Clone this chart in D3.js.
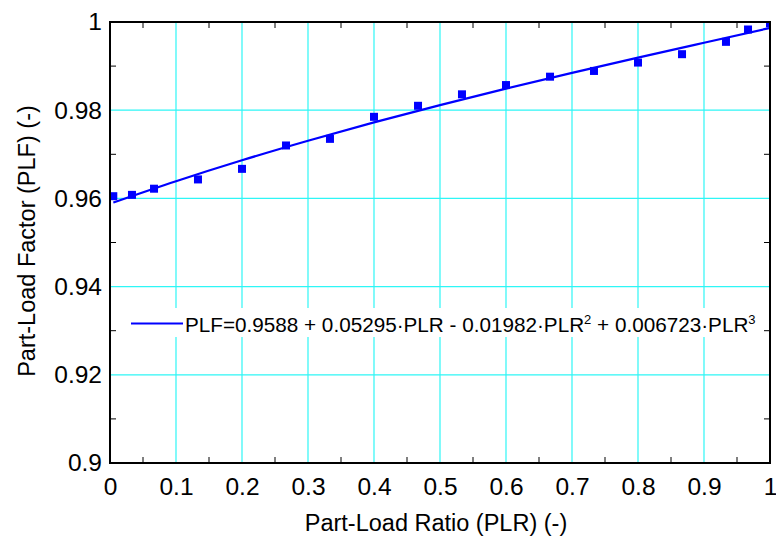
<!DOCTYPE html>
<html><head><meta charset="utf-8">
<script src="https://cdn.jsdelivr.net/npm/d3@7"></script>
<style>
body{margin:0;background:#fff}
text{font-family:"Liberation Sans",Arial,sans-serif;fill:#000}
</style>
</head><body>
<svg id="chart" width="776" height="539"></svg>
<script>
// measured data points
const plrData = [0.005, 0.0333, 0.0667, 0.1333, 0.2, 0.2667, 0.3333, 0.4, 0.4667, 0.5333, 0.6, 0.6667, 0.7333, 0.8, 0.8667, 0.9333, 0.9667, 1.0];
const plfData = [0.9605, 0.9608, 0.9622, 0.9643, 0.9667, 0.9720, 0.9735, 0.9785, 0.9810, 0.9836, 0.9857, 0.9876, 0.9889, 0.9908, 0.9927, 0.9955, 0.9983, 0.9997];
// fitted curve read at regular PLR positions
const fitPLR = [0.005, 0.1, 0.2, 0.3, 0.4, 0.5, 0.6, 0.7, 0.8, 0.9, 1.0];
const fitPLF = [0.95907, 0.96390, 0.96865, 0.97308, 0.97724, 0.98116, 0.98489, 0.98846, 0.99192, 0.99530, 0.99865];
// ticks
const xTickValues = [0, 0.1, 0.2, 0.3, 0.4, 0.5, 0.6, 0.7, 0.8, 0.9, 1];
const xTickLabels = ["0", "0.1", "0.2", "0.3", "0.4", "0.5", "0.6", "0.7", "0.8", "0.9", "1"];
const yTickValues = [0.9, 0.92, 0.94, 0.96, 0.98, 1];
const yTickLabels = ["0.9", "0.92", "0.94", "0.96", "0.98", "1"];
const xMinorTicks = [0.05, 0.15, 0.25, 0.35, 0.45, 0.55, 0.65, 0.75, 0.85, 0.95];
const yMinorTicks = [0.91, 0.93, 0.95, 0.97, 0.99];
const xTitle = "Part-Load Ratio (PLR) (-)";
const yTitle = "Part-Load Factor (PLF) (-)";

const svg = d3.select("#chart");
const L = 110, R = 770, T = 22, B = 463;
const x = d3.scaleLinear().domain([0, 1]).range([L, R]);
const y = d3.scaleLinear().domain([0.9, 1]).range([B, T]);
const gridColor = "#2ef6f6";

svg.append("rect").attr("width", 776).attr("height", 539).attr("fill", "#fff");
svg.append("defs").append("clipPath").attr("id", "clip")
  .append("rect").attr("x", L).attr("y", T).attr("width", R - L).attr("height", B - T);

// grid
const grid = svg.append("g");
grid.selectAll("line.v").data(xTickValues.slice(1, -1)).enter().append("line")
  .attr("x1", d => x(d)).attr("x2", d => x(d)).attr("y1", T).attr("y2", B)
  .attr("stroke", gridColor).attr("stroke-width", 1.2);
grid.selectAll("line.h").data(yTickValues.slice(1, -1)).enter().append("line")
  .attr("y1", d => y(d)).attr("y2", d => y(d)).attr("x1", L).attr("x2", R)
  .attr("stroke", gridColor).attr("stroke-width", 1.2);

// legend
const lg = svg.append("g");
lg.append("rect").attr("x", 121).attr("y", 308).attr("width", 645).attr("height", 29).attr("fill", "#fff");
lg.append("line").attr("x1", 131).attr("x2", 183).attr("y1", 323.5).attr("y2", 323.5)
  .attr("stroke", "#0000ff").attr("stroke-width", 2);
const lt = lg.append("text").attr("x", 185).attr("y", 332).attr("font-size", 20.7);
lt.append("tspan").text("PLF=0.9588 + 0.05295·PLR - 0.01982·PLR");
lt.append("tspan").attr("font-size", 13).attr("dy", -8.5).text("2");
lt.append("tspan").attr("dy", 8.5).text(" + 0.006723·PLR");
lt.append("tspan").attr("font-size", 13).attr("dy", -8.5).text("3");

// fit line
const line = d3.line().x((d, i) => x(fitPLR[i])).y(d => y(d)).curve(d3.curveMonotoneX);
svg.append("path").datum(fitPLF).attr("d", line).attr("fill", "none")
  .attr("stroke", "#0000ff").attr("stroke-width", 2.2).attr("clip-path", "url(#clip)");

// points
const s = 8;
svg.append("g").attr("clip-path", "url(#clip)").selectAll("rect").data(plfData).enter().append("rect")
  .attr("x", (d, i) => x(plrData[i]) - s / 2).attr("y", d => y(d) - s / 2)
  .attr("width", s).attr("height", s).attr("fill", "#0000ff");

// frame
svg.append("rect").attr("x", L).attr("y", T).attr("width", R - L).attr("height", B - T)
  .attr("fill", "none").attr("stroke", "#000").attr("stroke-width", 2);

// minor ticks (inward)
const tk = 6;
const ticks = svg.append("g").attr("stroke", "#000").attr("stroke-width", 1);
xMinorTicks.forEach(v => {
  ticks.append("line").attr("x1", x(v)).attr("x2", x(v)).attr("y1", B).attr("y2", B - tk);
  ticks.append("line").attr("x1", x(v)).attr("x2", x(v)).attr("y1", T).attr("y2", T + tk);
});
yMinorTicks.forEach(v => {
  ticks.append("line").attr("y1", y(v)).attr("y2", y(v)).attr("x1", L).attr("x2", L + tk);
  ticks.append("line").attr("y1", y(v)).attr("y2", y(v)).attr("x1", R).attr("x2", R - tk);
});

// axes labels via d3 axes
const xAxis = d3.axisBottom(x).tickValues(xTickValues).tickFormat((d, i) => xTickLabels[i]).tickSize(0).tickPadding(15);
const gx = svg.append("g").attr("transform", `translate(0,${B})`).call(xAxis);
gx.select(".domain").remove();
gx.selectAll("text").attr("font-size", 24.5).attr("font-family", "Liberation Sans, Arial, sans-serif").attr("fill", "#000");

const yAxis = d3.axisLeft(y).tickValues(yTickValues).tickFormat((d, i) => yTickLabels[i]).tickSize(0).tickPadding(8);
const gy = svg.append("g").attr("transform", `translate(${L},0)`).call(yAxis);
gy.select(".domain").remove();
gy.selectAll("text").attr("font-size", 24.5).attr("font-family", "Liberation Sans, Arial, sans-serif").attr("fill", "#000");

svg.append("text").attr("x", 436).attr("y", 531).attr("text-anchor", "middle")
  .attr("font-size", 23.5).text(xTitle);
svg.append("text").attr("transform", `translate(35,241) rotate(-90)`).attr("text-anchor", "middle")
  .attr("font-size", 23.5).text(yTitle);
</script>
</body></html>
